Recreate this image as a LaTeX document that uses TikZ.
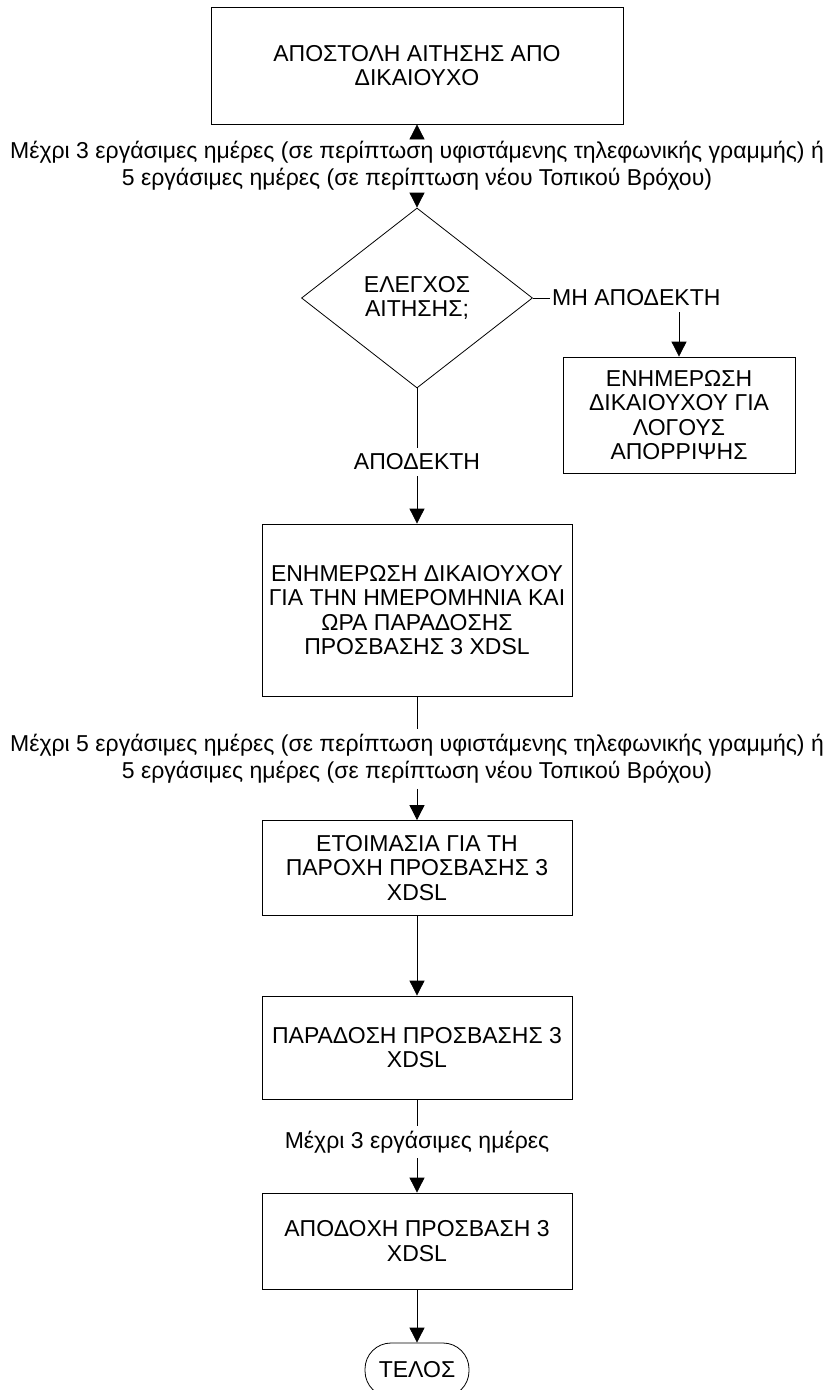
\documentclass[tikz,border=0pt]{standalone}
\usepackage{fontspec}
\setmainfont{Liberation Sans}
\usetikzlibrary{arrows.meta,shapes.geometric,positioning}
\tikzstyle{process} = [rectangle, draw, line width=0.8pt, align=center, inner sep=2pt]
\tikzstyle{decision} = [diamond, draw, line width=0.8pt, align=center, inner sep=0pt]
\tikzstyle{terminal} = [rectangle, rounded corners=26pt, draw, line width=0.8pt, align=center, minimum width=104pt, minimum height=54pt]
\tikzstyle{delay} = [align=center, inner sep=3pt, font=\fontsize{23}{27}\selectfont]
\tikzstyle{line} = [line width=0.8pt]
\tikzstyle{arrow} = [line width=0.8pt, -{Triangle[length=15pt,width=15pt]}]

\begin{document}
\begin{tikzpicture}[x=1pt, y=-1pt, font=\fontsize{23}{24.5}\selectfont]
\useasboundingbox (0,0) rectangle (826,1390);
% Flow chart
\node[process, minimum width=412pt, minimum height=117pt] (request) at (417,65.5) {ΑΠΟΣΤΟΛΗ ΑΙΤΗΣΗΣ ΑΠΟ\\ΔΙΚΑΙΟΥΧΟ};
\node[delay] (delay1) at (417,165.5) {Μέχρι 3 εργάσιμες ημέρες (σε περίπτωση υφιστάμενης τηλεφωνικής γραμμής) ή\\5 εργάσιμες ημέρες (σε περίπτωση νέου Τοπικού Βρόχου)};
\node[decision, minimum width=231pt, minimum height=180pt] (check) at (417,298) {ΕΛΕΓΧΟΣ\\ΑΙΤΗΣΗΣ;};
\node[delay, anchor=west, inner xsep=2pt, inner ysep=6pt] (reject) at (550,298) {ΜΗ ΑΠΟΔΕΚΤΗ};
\node[process, minimum width=232pt, minimum height=116pt] (inform) at (679,415) {ΕΝΗΜΕΡΩΣΗ\\ΔΙΚΑΙΟΥΧΟΥ ΓΙΑ\\ΛΟΓΟΥΣ\\ΑΠΟΡΡΙΨΗΣ};
\node[delay, inner ysep=6pt] (accept) at (417,462) {ΑΠΟΔΕΚΤΗ};
\node[process, minimum width=310pt, minimum height=172pt] (schedule) at (417,610) {ΕΝΗΜΕΡΩΣΗ ΔΙΚΑΙΟΥΧΟΥ\\ΓΙΑ ΤΗΝ ΗΜΕΡΟΜΗΝΙΑ ΚΑΙ\\ΩΡΑ ΠΑΡΑΔΟΣΗΣ\\ΠΡΟΣΒΑΣΗΣ 3 XDSL};
\node[delay, inner ysep=5pt] (delay2) at (417,759) {Μέχρι 5 εργάσιμες ημέρες (σε περίπτωση υφιστάμενης τηλεφωνικής γραμμής) ή\\5 εργάσιμες ημέρες (σε περίπτωση νέου Τοπικού Βρόχου)};
\node[process, minimum width=310pt, minimum height=95pt] (prepare) at (417,868) {ΕΤΟΙΜΑΣΙΑ ΓΙΑ ΤΗ\\ΠΑΡΟΧΗ ΠΡΟΣΒΑΣΗΣ 3\\XDSL};
\node[process, minimum width=310pt, minimum height=103pt] (deliver) at (417,1047.5) {ΠΑΡΑΔΟΣΗ ΠΡΟΣΒΑΣΗΣ 3\\XDSL};
\node[delay, inner ysep=5pt] (delay3) at (417,1142) {Μέχρι 3 εργάσιμες ημέρες};
\node[process, minimum width=310pt, minimum height=96pt] (acceptance) at (417,1241) {ΑΠΟΔΟΧΗ ΠΡΟΣΒΑΣΗ 3\\XDSL};
\node[terminal] (end) at (417,1370) {ΤΕΛΟΣ};

\draw[arrow] (request.south |- delay1.north) -- (request.south);
\draw[arrow] (check.north |- delay1.south) -- (check.north);
\draw[line] (check.east) -- (reject.west);
\draw[arrow] (reject.south -| inform.north) -- (inform.north);
\draw[line] (check.south) -- (accept.north);
\draw[arrow] (accept.south) -- (schedule.north);
\draw[line] (schedule.south) -- (delay2.north);
\draw[arrow] (delay2.south) -- (prepare.north);
\draw[arrow] (prepare) -- (deliver);
\draw[line] (deliver) -- (delay3);
\draw[arrow] (delay3) -- (acceptance);
\draw[arrow] (acceptance) -- (end);
\end{tikzpicture}
\end{document}
